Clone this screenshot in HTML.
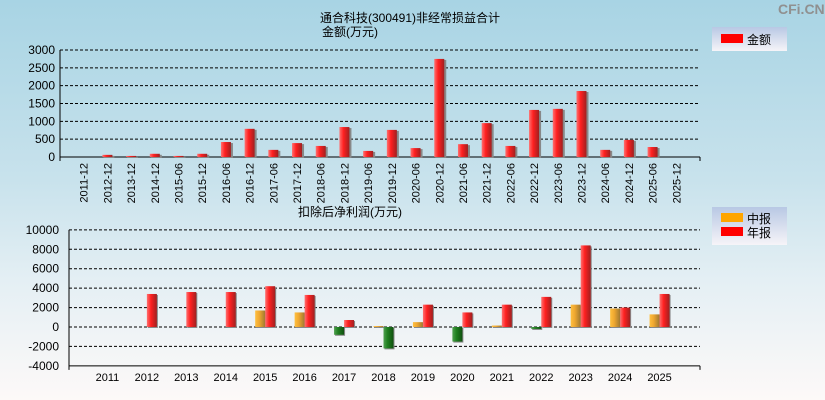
<!DOCTYPE html>
<html><head><meta charset="utf-8"><style>
html,body{margin:0;padding:0;width:825px;height:400px;overflow:hidden}
body{background:linear-gradient(#a8d4e4 0%,#c8e2ec 45%,#e4eff4 70%,#fdf9f8 100%);font-family:"Liberation Sans","Noto Sans CJK SC",sans-serif}
svg{position:absolute;left:0;top:0}
</style></head><body>
<svg id="c" width="825" height="400">
<defs>
<linearGradient id="gr" x1="0" x2="1"><stop offset="0" stop-color="#ff7070"/><stop offset="0.4" stop-color="#ff2020"/><stop offset="1" stop-color="#a02020"/></linearGradient>
<linearGradient id="go" x1="0" x2="1"><stop offset="0" stop-color="#ffc040"/><stop offset="0.4" stop-color="#f0a830"/><stop offset="1" stop-color="#a07830"/></linearGradient>
<linearGradient id="gg" x1="0" x2="1"><stop offset="0" stop-color="#50a050"/><stop offset="0.4" stop-color="#208020"/><stop offset="1" stop-color="#105010"/></linearGradient>
<linearGradient id="lg" x1="0" y1="0" x2="0" y2="1"><stop offset="0" stop-color="#b8c8e4"/><stop offset="1" stop-color="#f6f4f8"/></linearGradient>
</defs>
<text x="778" y="14" font-size="14" font-weight="bold" fill="#909090">CFi.CN</text>
<text x="410" y="22" font-size="12" text-anchor="middle">通合科技(300491)非经常损益合计</text>
<text x="322" y="36" font-size="12">金额(万元)</text>
<text x="298" y="216" font-size="12">扣除后净利润(万元)</text>
<g><rect x="712" y="27" width="75" height="24" fill="url(#lg)"/><rect x="721" y="34" width="22" height="9" fill="#f00"/><text x="747" y="44" font-size="12">金额</text></g>
<g><rect x="712" y="207" width="75" height="38" fill="url(#lg)"/><rect x="721" y="213" width="22" height="9" fill="#ffa500"/><text x="747" y="223" font-size="12">中报</text><rect x="721" y="227" width="22" height="9" fill="#f00"/><text x="747" y="237" font-size="12">年报</text></g>
<g id="top"></g><g id="bot"></g>
</svg>
<script>
const topCats=["2011-12","2012-12","2013-12","2014-12","2015-06","2015-12","2016-06","2016-12","2017-06","2017-12","2018-06","2018-12","2019-06","2019-12","2020-06","2020-12","2021-06","2021-12","2022-06","2022-12","2023-06","2023-12","2024-06","2024-12","2025-06","2025-12"];
const topVals=[0,60,30,90,30,90,420,790,200,390,310,840,170,760,250,2750,360,950,310,1320,1350,1850,200,480,280,0];
const topTicks=[0,500,1000,1500,2000,2500,3000];
const years=["2011","2012","2013","2014","2015","2016","2017","2018","2019","2020","2021","2022","2023","2024","2025"];
const midVals=[null,null,null,null,1700,1500,-800,100,500,-1500,150,-200,2300,1900,1300];
const annVals=[null,3400,3600,3600,4200,3300,720,-2200,2300,1500,2300,3100,8400,2000,3400];
const botTicks=[-4000,-2000,0,2000,4000,6000,8000,10000];
const NS="http://www.w3.org/2000/svg";
function mk(p,t,a,txt){const e=document.createElementNS(NS,t);for(const k in a)e.setAttribute(k,a[k]);if(txt!==undefined)e.textContent=txt;p.appendChild(e);return e;}
const T=document.getElementById('top');
const tx0=60,tx1=700,ty=v=>157-v*107/3000;
const tslot=(tx1-tx0)/(topCats.length+1);
const tX=i=>tx0+(i+1)*tslot;
topTicks.forEach(v=>{
 if(v>0){const l=mk(T,'line',{x1:tx0,x2:tx1,y1:ty(v),y2:ty(v),stroke:'#000','stroke-dasharray':'3,2'});}
 const t=mk(T,'text',{x:tx0-5,y:ty(v)+4,'font-size':12,'text-anchor':'end'},v);
 
 
});
mk(T,'line',{x1:tx0,x2:tx0,y1:ty(3000),y2:ty(0)+4,stroke:'#000'});
mk(T,'line',{x1:tx0,x2:tx1,y1:ty(0),y2:ty(0),stroke:'#000'});
mk(T,'line',{x1:tx1,x2:tx1,y1:ty(0),y2:ty(0)+4,stroke:'#000'});
topCats.forEach((c,i)=>{
 const x=tX(i),v=topVals[i];
 if(v>0){mk(T,'rect',{x:x-4,y:ty(v)+1,width:11,height:ty(0)-ty(v),fill:'#888'});
 const r=mk(T,'rect',{x:x-5,y:ty(v),width:10,height:ty(0)-ty(v),fill:'url(#gr)'});
 
 }
 const t=mk(T,'text',{x:0,y:0,'font-size':11,'text-anchor':'end',transform:`translate(${x+4},${ty(0)+6}) rotate(-90)`},c);
 
 
});
const B=document.getElementById('bot');
const bx0=69,bx1=700,by=v=>327-v*136/14000;
const bslot=(bx1-bx0)/(years.length+1);
const bX=i=>bx0+(i+1)*bslot-1;
botTicks.forEach(v=>{
 if(v>-4000){const l=mk(B,'line',{x1:bx0,x2:bx1,y1:by(v),y2:by(v),stroke:'#000','stroke-dasharray':'3,2'});}
 const t=mk(B,'text',{x:bx0-10,y:by(v)+4,'font-size':12,'text-anchor':'end'},v);
 
 
});
mk(B,'line',{x1:bx0,x2:bx0,y1:by(10000),y2:by(-4000)+4,stroke:'#000'});
mk(B,'line',{x1:bx0,x2:bx1,y1:by(-4000),y2:by(-4000),stroke:'#000'});
mk(B,'line',{x1:bx1,x2:bx1,y1:by(-4000),y2:by(-4000)+4,stroke:'#000'});
function bar(x,v,fill,name){
 if(v===null||v===0)return;
 const y=Math.min(by(v),by(0)),h=Math.abs(by(v)-by(0));
 mk(B,'rect',{x:x+1,y:y+1,width:10,height:h,fill:'#888'});
 const r=mk(B,'rect',{x:x,y:y,width:10,height:h,fill:v<0?'url(#gg)':fill});
 
 
}
years.forEach((yr,i)=>{
 const x=bX(i);
 bar(x-10,midVals[i],'url(#go)','midyear-bar');
 bar(x,annVals[i],'url(#gr)','annual-bar');
 const t=mk(B,'text',{x:x,y:381,'font-size':11,'text-anchor':'middle'},yr);
 
 
});
</script>
</body></html>
